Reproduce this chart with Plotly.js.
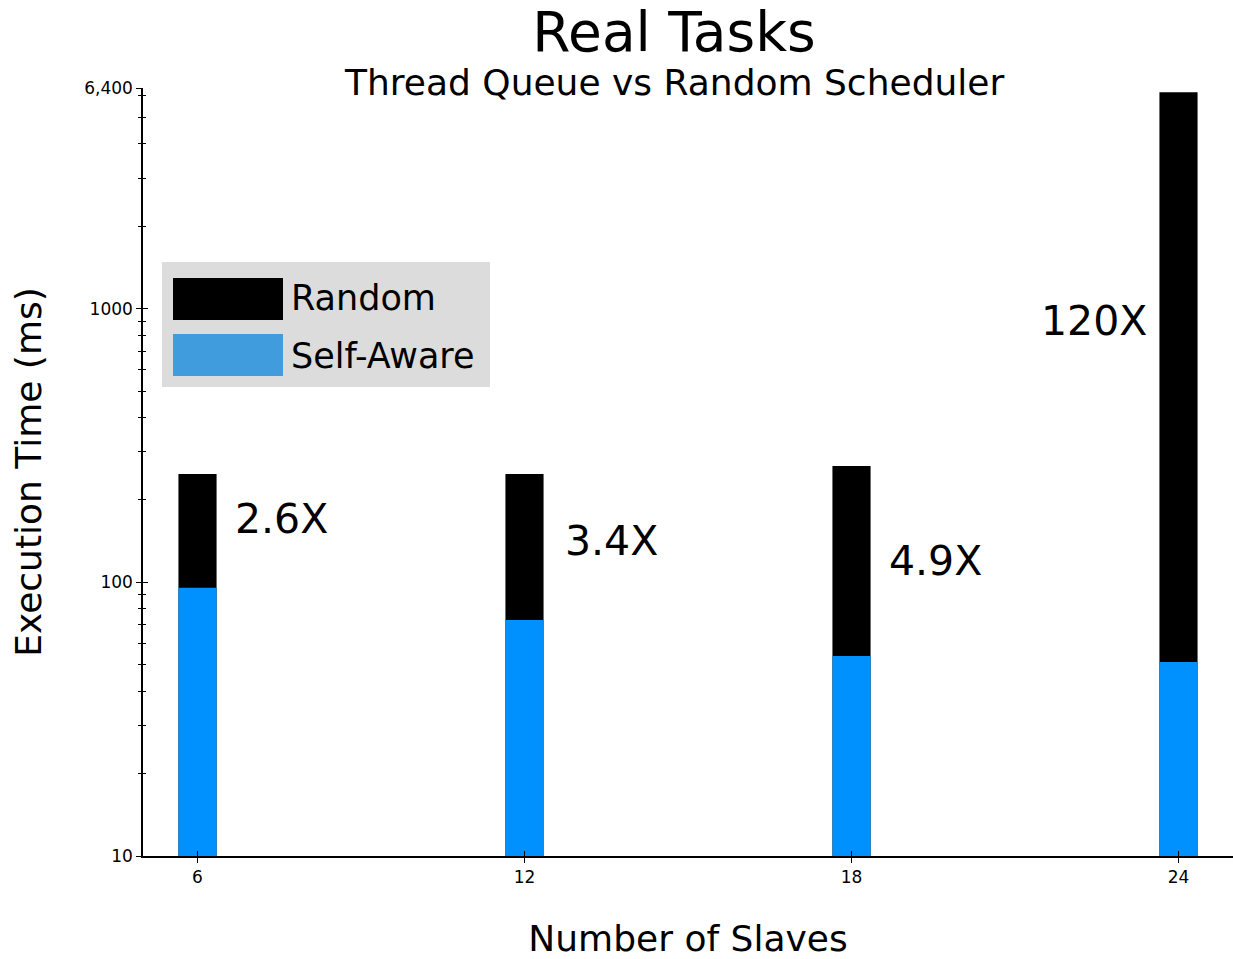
<!DOCTYPE html>
<html>
<head>
<meta charset="utf-8">
<script src="https://cdn.plot.ly/plotly-3.0.1.min.js"></script>
<style>html,body{margin:0;padding:0;background:#fff;}#chart{width:1233px;height:959px;}</style>
</head>
<body>
<div id="chart"></div>
<script>
// ---- data ----
const slaves = [6, 12, 18, 24];
const randomTimes = [249, 249, 266, 6180];
const selfAwareTimes = [95.5, 72.8, 53.8, 51.2];
const speedupLabels = ["2.6X", "3.4X", "4.9X", "120X"];
const seriesNames = ["Random", "Self-Aware"];
const yTickVals = [10, 100, 1000, 6400];
const yTickText = ["10", "100", "1000", "6,400"];
const yMinorVals = [20,30,40,50,60,70,80,90,200,300,400,500,600,700,800,900,2000,3000,4000,5000,6000];

// ---- styling ----
const FONT = "DejaVu Sans, sans-serif";
const barBlue = "#0091ff";
const legendBlue = "#409cdc";

// annotation positions (x in data units, y in log10 units)
const labelX = [7.55, 13.59, 19.55, 22.45];
const labelY = [2.231, 2.151, 2.078, 2.955];

const traces = [
  {type: "bar", name: seriesNames[0], x: slaves, y: randomTimes, width: 0.7,
   marker: {color: "#000000"}, hoverinfo: "x+y+name"},
  {type: "bar", name: seriesNames[1], x: slaves, y: selfAwareTimes, width: 0.7,
   marker: {color: barBlue}, hoverinfo: "x+y+name"},
  // invisible trace for secondary axes (crossing ticks)
  {type: "scatter", x: [slaves[0]], y: [randomTimes[0]], yaxis: "y2", xaxis: "x2",
   mode: "markers", marker: {opacity: 0}, hoverinfo: "skip", showlegend: false}
];

const annotations = speedupLabels.map((t, i) => ({
  text: t, x: labelX[i], y: labelY[i], xref: "x", yref: "y",
  showarrow: false, font: {family: FONT, size: 41, color: "#000"}
}));

const lx = px => (px - 143) / 1090;
const ly = py => (856 - py) / 768;

// subtitle
annotations.push({text: "Thread Queue vs Random Scheduler", xref: "paper", yref: "paper",
  x: lx(674), y: ly(82), showarrow: false, xanchor: "center", yanchor: "middle",
  font: {family: FONT, size: 36, color: "#000"}});

// custom legend
const shapes = [
  {type: "rect", xref: "paper", yref: "paper", x0: lx(162), x1: lx(490), y0: ly(387), y1: ly(262),
   fillcolor: "#dcdcdc", line: {width: 0}, layer: "above"},
  {type: "rect", xref: "paper", yref: "paper", x0: lx(173), x1: lx(283), y0: ly(320), y1: ly(278),
   fillcolor: "#000000", line: {width: 0}, layer: "above"},
  {type: "rect", xref: "paper", yref: "paper", x0: lx(173), x1: lx(283), y0: ly(376), y1: ly(334),
   fillcolor: legendBlue, line: {width: 0}, layer: "above"}
];
annotations.push({text: seriesNames[0], xref: "paper", yref: "paper", x: lx(289), y: ly(298),
  xanchor: "left", yanchor: "middle", showarrow: false, font: {family: FONT, size: 35, color: "#000"}});
annotations.push({text: seriesNames[1], xref: "paper", yref: "paper", x: lx(289), y: ly(356),
  xanchor: "left", yanchor: "middle", showarrow: false, font: {family: FONT, size: 35, color: "#000"}});

const layout = {
  width: 1233, height: 959,
  margin: {l: 143, r: 0, t: 88, b: 103, pad: 0},
  paper_bgcolor: "#fff", plot_bgcolor: "#fff",
  barmode: "overlay",
  showlegend: false,
  font: {family: FONT, color: "#000"},
  title: {text: "Real Tasks", x: 674 / 1233, xanchor: "center", y: 1 - 32 / 959, yanchor: "middle",
          font: {family: FONT, size: 55, color: "#000"}},
  xaxis: {
    range: [5, 25], tickvals: slaves, ticktext: slaves.map(String),
    ticks: "outside", ticklen: 5, tickcolor: "#000", tickwidth: 1,
    showline: true, linecolor: "#000", linewidth: 1.5, showgrid: false, zeroline: false,
    tickfont: {family: FONT, size: 17, color: "#000"},
    title: {text: "Number of Slaves", font: {family: FONT, size: 36, color: "#000"}, standoff: 40}
  },
  xaxis2: {range: [5, 25], overlaying: "x", tickvals: slaves, ticks: "inside", ticklen: 5,
    tickcolor: "#000", showticklabels: false, showline: false, showgrid: false, zeroline: false},
  yaxis: {
    type: "log", range: [1, Math.log10(6400)],
    tickvals: yTickVals, ticktext: yTickText,
    ticks: "outside", ticklen: 5, tickcolor: "#000", tickwidth: 1,
    minor: {tickvals: yMinorVals, ticks: "outside", ticklen: 3, tickcolor: "#000", showgrid: false},
    showline: true, linecolor: "#000", linewidth: 1.5, showgrid: false, zeroline: false,
    tickfont: {family: FONT, size: 17, color: "#000"},
    title: {text: "Execution Time (ms)", font: {family: FONT, size: 36, color: "#000"}, standoff: 32}
  },
  yaxis2: {type: "log", range: [1, Math.log10(6400)], overlaying: "y", tickvals: yTickVals,
    ticks: "inside", ticklen: 5, tickcolor: "#000", showticklabels: false,
    minor: {tickvals: yMinorVals, ticks: "inside", ticklen: 3, tickcolor: "#000", showgrid: false},
    showline: false, showgrid: false, zeroline: false},
  annotations: annotations,
  shapes: shapes
};

Plotly.newPlot("chart", traces, layout, {displayModeBar: false});
</script>
</body>
</html>
